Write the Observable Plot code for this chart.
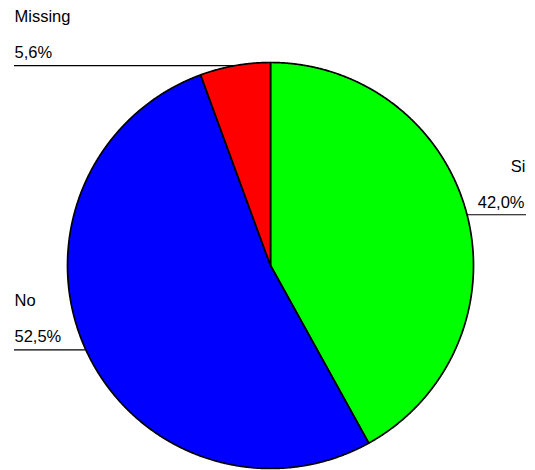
<!DOCTYPE html>
<html><head><meta charset="utf-8">
<script src="https://cdn.jsdelivr.net/npm/d3@7"></script>
<script src="https://cdn.jsdelivr.net/npm/@observablehq/plot@0.6"></script>
<style>body{margin:0;background:#fff}</style>
</head><body><div id="chart"></div>
<script>
const categories = ["Si", "No", "Missing"];
const values = [42.0, 52.5, 5.6];
const valueLabels = ["42,0%", "52,5%", "5,6%"];
const colors = ["#00ff00", "#0000ff", "#ff0000"];
const labelSide = ["right", "left", "left"];

const arcs = d3.pie().sort(null)(values);
const slices = arcs.map((a, i) => ({
  name: categories[i], value: values[i], label: valueLabels[i], color: colors[i],
  start: a.startAngle, end: a.endAngle, mid: (a.startAngle + a.endAngle) / 2, side: labelSide[i]
}));
function polygon(s) {
  const pts = [{x: 0, y: 0}];
  const n = Math.max(2, Math.ceil((s.end - s.start) / 0.004));
  for (let k = 0; k <= n; k++) {
    const t = s.start + (s.end - s.start) * k / n;
    pts.push({x: Math.sin(t), y: Math.cos(t)});
  }
  pts.push({x: 0, y: 0});
  return pts;
}
const labels = slices.map(s => ({name: s.name, label: s.label, side: s.side, x: Math.sin(s.mid), y: Math.cos(s.mid)}));
const left = labels.filter(d => d.side === "left");
const right = labels.filter(d => d.side === "right");

const sliceMarks = slices.map(s => Plot.line(polygon(s), {x: "x", y: "y", fill: s.color, stroke: "black", strokeWidth: 1.7, strokeLinejoin: "round"}));

const chart = Plot.plot({
  width: 535, height: 470,
  marginLeft: 14, marginRight: 9, marginTop: 0, marginBottom: 0,
  style: {fontFamily: "'Liberation Sans', Arial, sans-serif", background: "white"},
  x: {domain: [-1, 1], range: [67, 473], axis: null},
  y: {domain: [-1, 1], range: [468, 62], axis: null},
  marks: [
    Plot.ruleY(left, {y: "y", x1: () => -3, x2: "x", stroke: "black", strokeWidth: 1.2, clip: "frame"}),
    Plot.ruleY(right, {y: "y", x1: "x", x2: () => 3, stroke: "black", strokeWidth: 1.2, clip: "frame"}),
    ...sliceMarks,
    Plot.text(left, {y: "y", text: "name", frameAnchor: "left", textAnchor: "start", lineAnchor: "bottom", dy: -43.5, fontSize: 16.5, fill: "black"}),
    Plot.text(left, {y: "y", text: "label", frameAnchor: "left", textAnchor: "start", lineAnchor: "bottom", dy: -7.5, fontSize: 16.5, fill: "black"}),
    Plot.text(right, {y: "y", text: "name", frameAnchor: "right", textAnchor: "end", lineAnchor: "bottom", dy: -43, fontSize: 16.5, fill: "black", dx: -1}),
    Plot.text(right, {y: "y", text: "label", frameAnchor: "right", textAnchor: "end", lineAnchor: "bottom", dy: -7, fontSize: 16.5, fill: "black", dx: -2})
  ]
});
document.getElementById("chart").appendChild(chart);
</script>
</body></html>
